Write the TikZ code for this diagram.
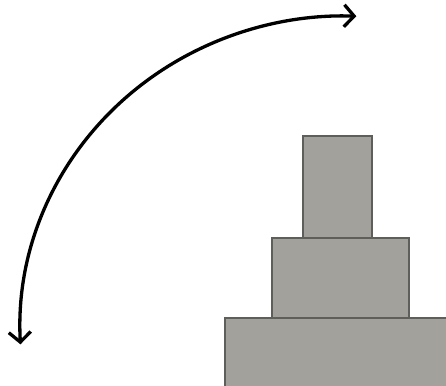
\documentclass[tikz,border=0pt]{standalone}
\usetikzlibrary{arrows.meta}
\definecolor{boxfill}{HTML}{A2A19C}
\definecolor{boxline}{HTML}{5E5E5A}
\tikzset{
  block/.style={draw=boxline, fill=boxfill, line width=2pt},
  rotarrow/.style={line width=3.3pt, {Straight Barb[length=10pt,width=22pt]}-{Straight Barb[length=10pt,width=22pt]}}
}
\begin{document}
\begin{tikzpicture}[x=1pt,y=1pt]
\useasboundingbox (0,0) rectangle (446,385);
\clip (0,0) rectangle (446,385);
% blocks
\draw[block] (225,-20) rectangle (470,67);
\coordinate (bottomblock) at (335,30);
\draw[block] (272,67) rectangle (409,147);
\coordinate (midblock) at (340,107);
\draw[block] (303,147) rectangle (372,249);
\coordinate (topblock) at (337,198);
% rotation arrow
\coordinate (arcstart) at ({345+325*cos(183)},{57+312*sin(183)});
\draw[rotarrow] (arcstart) arc[start angle=183, end angle=88, x radius=325, y radius=312] coordinate (arcend);
\end{tikzpicture}
\end{document}
